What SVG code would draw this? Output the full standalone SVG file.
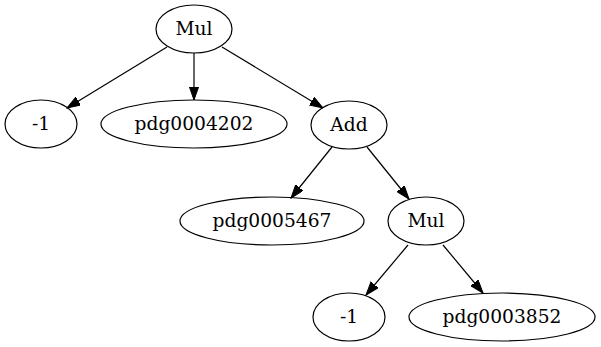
<svg xmlns="http://www.w3.org/2000/svg" width="601" height="347" viewBox="0 0 601 347">
<style>
.n ellipse{fill:none;stroke:#000;stroke-width:1.2}
.n text{font-family:"DejaVu Serif","Liberation Serif",serif;font-size:18.67px;text-anchor:middle;fill:#000}
.e line{stroke:#000;stroke-width:1.2;marker-end:url(#ah)}
</style>
<defs>
<marker id="ah" markerUnits="userSpaceOnUse" markerWidth="14" markerHeight="10" refX="13.3" refY="4.67" orient="auto" viewBox="0 0 14 10">
<path d="M0,0 L13.3,4.67 L0,9.33 z" fill="#000" stroke="#000" stroke-width="1"/>
</marker>
</defs>
<rect width="601" height="347" fill="#fff"/>
<g id="edges" class="e">
<line x1="167" y1="47" x2="67" y2="108"/>
<line x1="194" y1="53" x2="194" y2="100"/>
<line x1="222" y1="47" x2="323" y2="108"/>
<line x1="332" y1="147" x2="291" y2="198"/>
<line x1="367" y1="147" x2="409" y2="199"/>
<line x1="408" y1="245" x2="366" y2="295"/>
<line x1="443" y1="245" x2="483" y2="293"/>
</g>
<g id="mul1" class="n"><ellipse cx="194" cy="29" rx="38" ry="24"/><text x="194" y="35">Mul</text></g>
<g id="neg1a" class="n"><ellipse cx="41" cy="124" rx="36" ry="24"/><text x="41" y="130">-1</text></g>
<g id="pdg0004202" class="n"><ellipse cx="194" cy="124" rx="93" ry="24"/><text x="194" y="130">pdg0004202</text></g>
<g id="add" class="n"><ellipse cx="349" cy="125" rx="38" ry="24"/><text x="349" y="131">Add</text></g>
<g id="pdg0005467" class="n"><ellipse cx="272" cy="221" rx="92" ry="24"/><text x="272" y="227">pdg0005467</text></g>
<g id="mul2" class="n"><ellipse cx="426" cy="221" rx="38" ry="24"/><text x="426" y="227">Mul</text></g>
<g id="neg1b" class="n"><ellipse cx="349" cy="317" rx="36" ry="24"/><text x="349" y="323">-1</text></g>
<g id="pdg0003852" class="n"><ellipse cx="502" cy="317" rx="93" ry="24"/><text x="502" y="323">pdg0003852</text></g>
</svg>
